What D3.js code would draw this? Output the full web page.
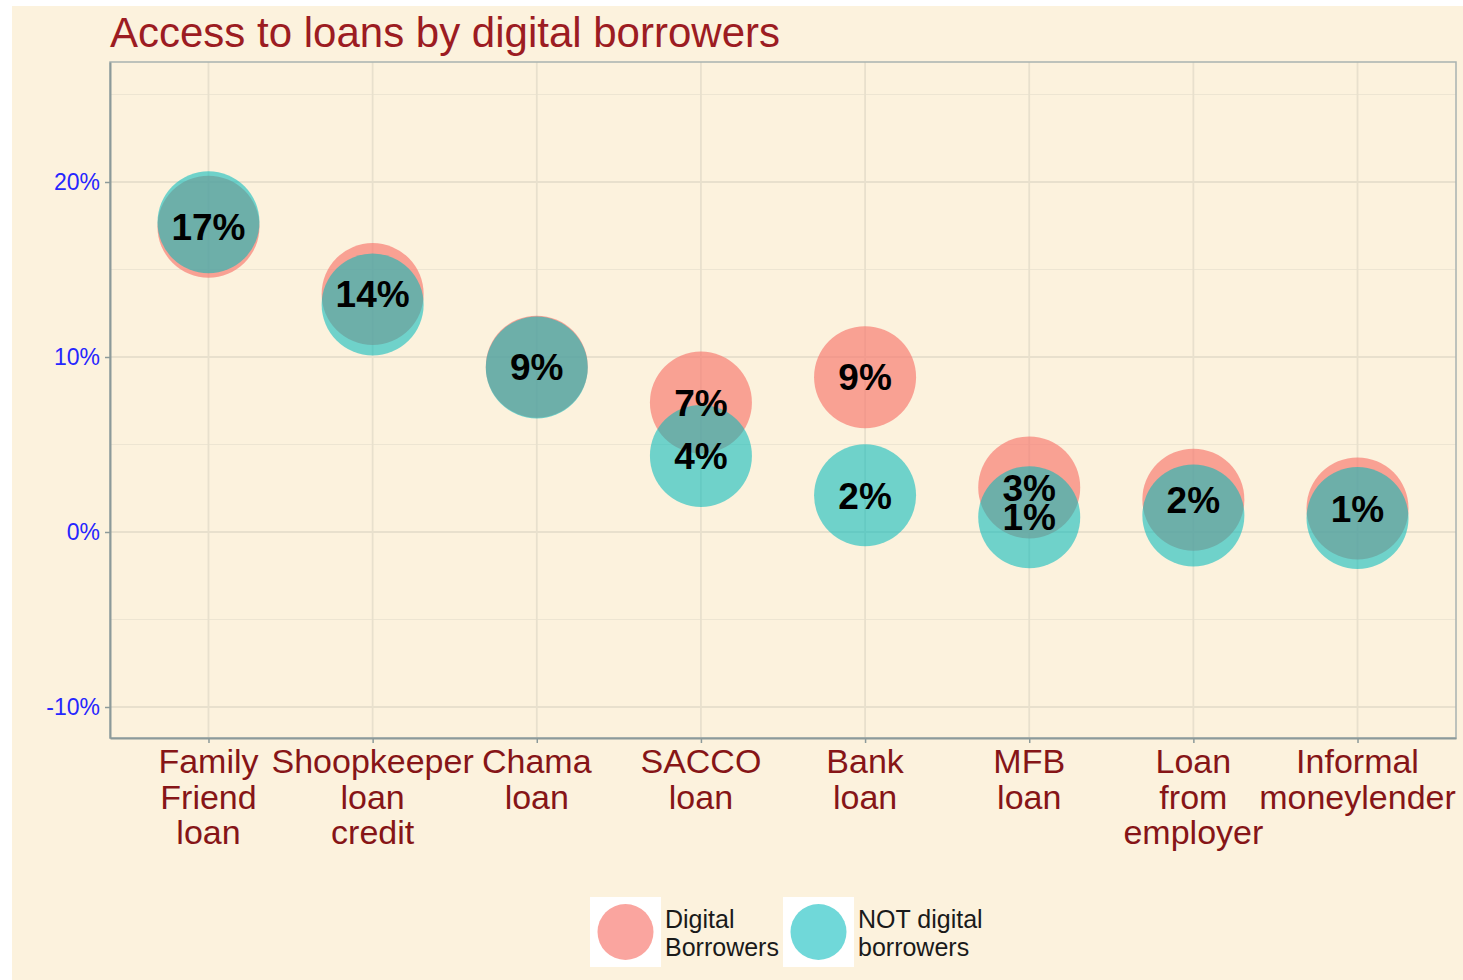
<!DOCTYPE html>
<html>
<head>
<meta charset="utf-8">
<script src="https://cdn.jsdelivr.net/npm/d3@7"></script>
<style>
  body { margin: 0; background: #fff; }
  svg { display: block; font-family: "Liberation Sans", Arial, sans-serif; }
</style>
</head>
<body>
<svg id="chart"></svg>
<script>
// loan types, in plotting order
const categories = ["Family Friend loan", "Shoopkeeper loan credit", "Chama loan", "SACCO loan",
  "Bank loan", "MFB loan", "Loan from employer", "Informal moneylender"];
const tickLabels = [["Family", "Friend", "loan"], ["Shoopkeeper", "loan", "credit"], ["Chama", "loan"],
  ["SACCO", "loan"], ["Bank", "loan"], ["MFB", "loan"], ["Loan", "from", "employer"], ["Informal", "moneylender"]];

// share with access to each loan type (%)
const digital = [17.45, 13.6, 9.45, 7.4, 8.85, 2.55, 1.85, 1.35];
const notDigital = [17.7, 13.0, 9.4, 4.35, 2.1, 0.85, 0.95, 0.8];

const yTicks = [-10, 0, 10, 20];
const yMinor = [-5, 5, 15, 25];
const seriesNames = [["Digital", "Borrowers"], ["NOT digital", "borrowers"]];
const colors = ["#F8766D", "#00B9BC"];
const opac = [0.66, 0.56];

const W = 1463, H = 980;
const svg = d3.select("#chart").attr("width", W).attr("height", H);

// page background (white strip top/left like the original export)
svg.append("rect").attr("x", 12).attr("y", 6).attr("width", W - 12).attr("height", H - 6)
  .attr("fill", "#fcf2dd");

const panel = { left: 110, right: 1456, top: 62, bottom: 738 };

const x = d3.scalePoint()
  .domain(categories)
  .range([panel.left, panel.right])
  .padding(0.6);

const y = d3.scaleLinear()
  .domain([-(panel.bottom - 532) / 17.5, (532 - panel.top) / 17.5])
  .range([panel.bottom, panel.top]);

// grid
const grid = svg.append("g");
grid.selectAll(".minor").data(yMinor).join("line")
  .attr("x1", panel.left).attr("x2", panel.right)
  .attr("y1", d => y(d)).attr("y2", d => y(d))
  .attr("stroke", "#ede5d2").attr("stroke-width", 1.2);
grid.selectAll(".major").data(yTicks).join("line")
  .attr("x1", panel.left).attr("x2", panel.right)
  .attr("y1", d => y(d)).attr("y2", d => y(d))
  .attr("stroke", "#e8e0cd").attr("stroke-width", 1.8);
grid.selectAll(".vmajor").data(categories).join("line")
  .attr("x1", d => x(d)).attr("x2", d => x(d))
  .attr("y1", panel.top).attr("y2", panel.bottom)
  .attr("stroke", "#e8e0cd").attr("stroke-width", 1.8);

// panel border
svg.append("rect")
  .attr("x", panel.left).attr("y", panel.top)
  .attr("width", panel.right - panel.left).attr("height", panel.bottom - panel.top)
  .attr("fill", "none").attr("stroke", "#a8b2b0").attr("stroke-width", 1.5);

// y axis
const yAxisG = svg.append("g")
  .attr("transform", `translate(${panel.left},0)`)
  .call(d3.axisLeft(y).tickValues(yTicks).tickFormat(d => d + "%").tickSize(5).tickPadding(5).tickSizeOuter(0));
yAxisG.select(".domain").attr("stroke", "#8c9a9a").attr("stroke-width", 2);
yAxisG.selectAll(".tick line").attr("stroke", "#8c9a9a").attr("stroke-width", 1.5);
yAxisG.selectAll(".tick text").attr("fill", "#2626ff").attr("font-size", 23)
  .attr("font-family", "Liberation Sans, Arial, sans-serif");

// x axis
const xAxisG = svg.append("g")
  .attr("transform", `translate(0,${panel.bottom})`)
  .call(d3.axisBottom(x).tickSize(5).tickSizeOuter(0).tickFormat(""));
xAxisG.select(".domain").attr("stroke", "#8c9a9a").attr("stroke-width", 2);
xAxisG.selectAll(".tick line").attr("stroke", "#8c9a9a").attr("stroke-width", 1.5);

const xLabels = svg.append("g");
categories.forEach((c, i) => {
  const t = xLabels.append("text")
    .attr("x", x(c)).attr("y", panel.bottom + 35)
    .attr("text-anchor", "middle")
    .attr("font-size", 34)
    .attr("fill", "#861517");
  tickLabels[i].forEach((line, j) => {
    t.append("tspan").attr("x", x(c)).attr("dy", j === 0 ? 0 : 35.7).text(line);
  });
});

// bubbles
const R = 51;
const marks = svg.append("g");
[digital, notDigital].forEach((series, s) => {
  marks.selectAll(".b" + s).data(series).join("circle")
    .attr("class", "b" + s)
    .attr("cx", (d, i) => x(categories[i]))
    .attr("cy", d => y(d))
    .attr("r", R)
    .attr("fill", colors[s])
    .attr("fill-opacity", opac[s]);
});

// labels: digital first, then non-digital only where they do not overlap (check_overlap)
const fs = 37;
const labels = svg.append("g");
categories.forEach((c, i) => {
  const yd = y(digital[i]);
  const yn = y(notDigital[i]);
  labels.append("text")
    .attr("x", x(c)).attr("y", yd + fs * 0.36)
    .attr("text-anchor", "middle").attr("font-weight", "bold").attr("font-size", fs)
    .attr("fill", "#000").text(Math.round(digital[i]) + "%");
  if (Math.abs(yn - yd) > 28) {
    labels.append("text")
      .attr("x", x(c)).attr("y", yn + fs * 0.36)
      .attr("text-anchor", "middle").attr("font-weight", "bold").attr("font-size", fs)
      .attr("fill", "#000").text(Math.round(notDigital[i]) + "%");
  }
});

// title
svg.append("text")
  .attr("x", 110).attr("y", 47)
  .attr("font-size", 42)
  .attr("fill", "#9c1c22")
  .text("Access to loans by digital borrowers");

// legend
const legend = svg.append("g");
const legendX = [590, 783];
seriesNames.forEach((name, s) => {
  const g = legend.append("g").attr("transform", `translate(${legendX[s]},897)`);
  g.append("rect").attr("width", 71).attr("height", 70).attr("fill", "#fff");
  g.append("circle").attr("cx", 35.5).attr("cy", 35).attr("r", 28)
    .attr("fill", colors[s]).attr("fill-opacity", opac[s]);
  const t = g.append("text").attr("x", 75).attr("y", 31)
    .attr("font-size", 25).attr("fill", "#1a1a1a");
  name.forEach((line, j) => {
    t.append("tspan").attr("x", 75).attr("dy", j === 0 ? 0 : 28).text(line);
  });
});
</script>
</body>
</html>
